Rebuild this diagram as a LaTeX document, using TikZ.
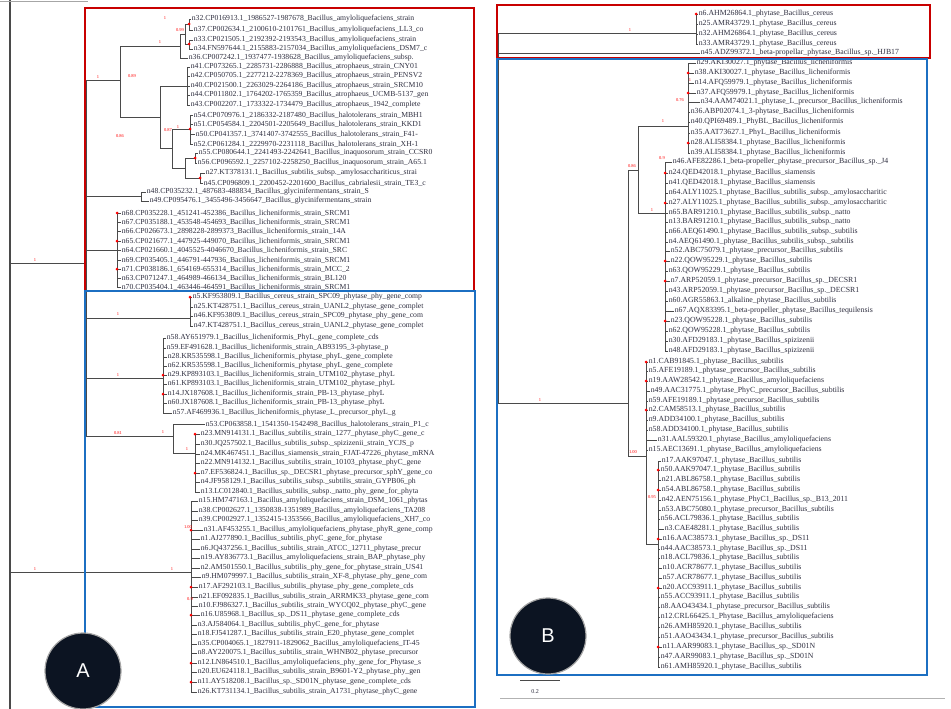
\documentclass[tikz,border=0pt]{standalone}
\usepackage{fontspec}
\setmainfont{Liberation Serif}
\newfontfamily\circfont{Liberation Sans}
\definecolor{labc}{HTML}{2F2F40}
\definecolor{brc}{HTML}{4A4A4A}
\definecolor{redbox}{HTML}{C80000}
\definecolor{bluebox}{HTML}{1C6FC2}
\definecolor{circf}{HTML}{0C1422}
\newcommand\Lf[4]{\node[leaf] (#1) at (#2,#3) {#4};}
\newcommand\LfB[4]{\node[leafb] (#1) at (#2,#3) {#4};}
\newcommand\Ci[3]{\coordinate (#1) at (#2,#3);}
\newcommand\Br[2]{\foreach \cc in {#2} {\draw[br] (#1) |- (\cc);}}
\newcommand\Sv[4]{\node[sv] (#1) at (#2,#3) {#4};}
\newcommand\Dt[3]{\fill[red] (#2,#3) circle (1.5);}
\begin{document}
\begin{tikzpicture}[x=1pt,y=-1pt,
  leaf/.style={anchor=west,inner sep=0.6pt,font=\fontsize{7.7}{8}\selectfont,text=labc},
  leafb/.style={anchor=west,inner sep=0.6pt,font=\fontsize{7.8}{8}\selectfont,text=labc},
  br/.style={draw=brc,line width=0.8pt},
  sv/.style={text=red,font=\fontsize{4.5}{5}\selectfont,inner sep=0pt},
  boxr/.style={draw=redbox,line width=2.6pt},
  boxb/.style={draw=bluebox,line width=2.6pt},
  circ/.style={circle,fill=circf,draw=gray!70,line width=1.2pt,minimum size=76pt,text=white,font=\circfont\fontsize{20}{22}\selectfont}]
\useasboundingbox (0,0) rectangle (951,709);
\fill[white] (0,0) rectangle (951,709);

% ---------------- Panel A : leaves ----------------
\Lf{a32}{191}{19}{n32.CP016913.1\_1986527-1987678\_Bacillus\_amyloliquefaciens\_strain}
\Lf{a37}{193}{30}{n37.CP002634.1\_2100610-2101761\_Bacillus\_amyloliquefaciens\_LL3\_co}
\Lf{a33}{193}{40}{n33.CP021505.1\_2192392-2193543\_Bacillus\_amyloliquefaciens\_strain}
\Lf{a34}{193}{49}{n34.FN597644.1\_2155883-2157034\_Bacillus\_amyloliquefaciens\_DSM7\_c}
\Lf{a36}{188}{58}{n36.CP007242.1\_1937477-1938628\_Bacillus\_amyloliquefaciens\_subsp.}
\Lf{a41}{190}{67}{n41.CP073265.1\_2285731-2286888\_Bacillus\_atrophaeus\_strain\_CNY01}
\Lf{a42}{190}{76}{n42.CP050705.1\_2277212-2278369\_Bacillus\_atrophaeus\_strain\_PENSV2}
\Lf{a40}{190}{86}{n40.CP021500.1\_2263029-2264186\_Bacillus\_atrophaeus\_strain\_SRCM10}
\Lf{a44}{190}{95}{n44.CP011802.1\_1764202-1765359\_Bacillus\_atrophaeus\_UCMB-5137\_gen}
\Lf{a43}{190}{105}{n43.CP002207.1\_1733322-1734479\_Bacillus\_atrophaeus\_1942\_complete}
\Lf{a54}{193}{115}{n54.CP070976.1\_2186332-2187480\_Bacillus\_halotolerans\_strain\_MBH1}
\Lf{a51}{193}{124}{n51.CP054584.1\_2204501-2205649\_Bacillus\_halotolerans\_strain\_KKD1}
\Lf{a50}{195}{134}{n50.CP041357.1\_3741407-3742555\_Bacillus\_halotolerans\_strain\_F41-}
\Lf{a52}{193}{144}{n52.CP061284.1\_2229970-2231118\_Bacillus\_halotolerans\_strain\_XH-1}
\Lf{a55}{198}{153}{n55.CP080644.1\_2241493-2242641\_Bacillus\_inaquosorum\_strain\_CCSR0}
\Lf{a56}{197}{163}{n56.CP096592.1\_2257102-2258250\_Bacillus\_inaquosorum\_strain\_A65.1}
\Lf{a27}{205}{173}{n27.KT378131.1\_Bacillus\_subtilis\_subsp.\_amylosacchariticus\_strai}
\Lf{a45}{203}{183}{n45.CP096809.1\_2200452-2201600\_Bacillus\_cabrialesii\_strain\_TE3\_c}
\Lf{a48}{146}{192}{n48.CP035232.1\_487683-488834\_Bacillus\_glycinifermentans\_strain\_S}
\Lf{a49}{149}{201}{n49.CP095476.1\_3455496-3456647\_Bacillus\_glycinifermentans\_strain}
\Lf{a68}{121}{213}{n68.CP035228.1\_451241-452386\_Bacillus\_licheniformis\_strain\_SRCM1}
\Lf{a67}{121}{222}{n67.CP035188.1\_453548-454693\_Bacillus\_licheniformis\_strain\_SRCM1}
\Lf{a66}{121}{231}{n66.CP026673.1\_2898228-2899373\_Bacillus\_licheniformis\_strain\_14A}
\Lf{a65}{121}{241}{n65.CP021677.1\_447925-449070\_Bacillus\_licheniformis\_strain\_SRCM1}
\Lf{a64}{121}{250}{n64.CP021660.1\_4045525-4046670\_Bacillus\_licheniformis\_strain\_SRC}
\Lf{a69}{121}{260}{n69.CP035405.1\_446791-447936\_Bacillus\_licheniformis\_strain\_SRCM1}
\Lf{a71}{121}{269}{n71.CP038186.1\_654169-655314\_Bacillus\_licheniformis\_strain\_MCC\_2}
\Lf{a63}{121}{278}{n63.CP071247.1\_464989-466134\_Bacillus\_licheniformis\_strain\_BL120}
\Lf{a70}{121}{287}{n70.CP035404.1\_463446-464591\_Bacillus\_licheniformis\_strain\_SRCM1}

\Lf{c5}{192}{297}{n5.KF953809.1\_Bacillus\_cereus\_strain\_SPC09\_phytase\_phy\_gene\_comp}
\Lf{c25}{193}{307}{n25.KT428751.1\_Bacillus\_cereus\_strain\_UANL2\_phytase\_gene\_complet}
\Lf{c46}{193}{316}{n46.KF953809.1\_Bacillus\_cereus\_strain\_SPC09\_phytase\_phy\_gene\_com}
\Lf{c47}{193}{326}{n47.KT428751.1\_Bacillus\_cereus\_strain\_UANL2\_phytase\_gene\_complet}
\Lf{c58}{166}{338}{n58.AY651979.1\_Bacillus\_licheniformis\_PhyL\_gene\_complete\_cds}
\Lf{c59}{166}{348}{n59.EF491628.1\_Bacillus\_licheniformis\_strain\_AB93195\_3-phytase\_p}
\Lf{c28}{167}{357}{n28.KR535598.1\_Bacillus\_licheniformis\_phytase\_phyL\_gene\_complete}
\Lf{c62}{167}{366}{n62.KR535598.1\_Bacillus\_licheniformis\_phytase\_phyL\_gene\_complete}
\Lf{c29}{167}{375}{n29.KP893103.1\_Bacillus\_licheniformis\_strain\_UTM102\_phytase\_phyL}
\Lf{c61}{167}{384}{n61.KP893103.1\_Bacillus\_licheniformis\_strain\_UTM102\_phytase\_phyL}
\Lf{c14}{167}{394}{n14.JX187608.1\_Bacillus\_licheniformis\_strain\_PB-13\_phytase\_phyL}
\Lf{c60}{167}{403}{n60.JX187608.1\_Bacillus\_licheniformis\_strain\_PB-13\_phytase\_phyL}
\Lf{c57}{172}{413}{n57.AF469936.1\_Bacillus\_licheniformis\_phytase\_L\_precursor\_phyL\_g}
\Lf{c53}{205}{424}{n53.CP063858.1\_1541350-1542498\_Bacillus\_halotolerans\_strain\_P1\_c}
\Lf{c23}{200}{434}{n23.MN914131.1\_Bacillus\_subtilis\_strain\_1277\_phytase\_phyC\_gene\_c}
\Lf{c30}{200}{444}{n30.JQ257502.1\_Bacillus\_subtilis\_subsp.\_spizizenii\_strain\_YCJS\_p}
\Lf{c24}{200}{454}{n24.MK467451.1\_Bacillus\_siamensis\_strain\_FJAT-47226\_phytase\_mRNA}
\Lf{c22}{200}{463}{n22.MN914132.1\_Bacillus\_subtilis\_strain\_10103\_phytase\_phyC\_gene}
\Lf{c7}{200}{473}{n7.EF536824.1\_Bacillus\_sp.\_DECSR1\_phytase\_precursor\_sphY\_gene\_co}
\Lf{c4}{200}{482}{n4.JF958129.1\_Bacillus\_subtilis\_subsp.\_subtilis\_strain\_GYPB06\_ph}
\Lf{c13}{200}{492}{n13.LC012840.1\_Bacillus\_subtilis\_subsp.\_natto\_phy\_gene\_for\_phyta}
\Lf{c15}{198}{501}{n15.HM747163.1\_Bacillus\_amyloliquefaciens\_strain\_DSM\_1061\_phytas}
\Lf{c38}{198}{511}{n38.CP002627.1\_1350838-1351989\_Bacillus\_amyloliquefaciens\_TA208}
\Lf{c39}{198}{520}{n39.CP002927.1\_1352415-1353566\_Bacillus\_amyloliquefaciens\_XH7\_co}
\Lf{c31}{203}{530}{n31.AF453255.1\_Bacillus\_amyloliquefaciens\_phytase\_phyR\_gene\_comp}
\Lf{c1}{200}{539}{n1.AJ277890.1\_Bacillus\_subtilis\_phyC\_gene\_for\_phytase}
\Lf{c6}{200}{549}{n6.JQ437256.1\_Bacillus\_subtilis\_strain\_ATCC\_12711\_phytase\_precur}
\Lf{c19}{200}{558}{n19.AY836773.1\_Bacillus\_amyloliquefaciens\_strain\_BAP\_phytase\_phy}
\Lf{c2}{200}{568}{n2.AM501550.1\_Bacillus\_subtilis\_phy\_gene\_for\_phytase\_strain\_US41}
\Lf{c9}{201}{577}{n9.HM079997.1\_Bacillus\_subtilis\_strain\_XF-8\_phytase\_phy\_gene\_com}
\Lf{c17}{198}{587}{n17.AF292103.1\_Bacillus\_subtilis\_phytase\_phy\_gene\_complete\_cds}
\Lf{c21}{198}{597}{n21.EF092835.1\_Bacillus\_subtilis\_strain\_ARRMK33\_phytase\_gene\_com}
\Lf{c10}{198}{606}{n10.FJ986327.1\_Bacillus\_subtilis\_strain\_WYCQ02\_phytase\_phyC\_gene}
\Lf{c16}{200}{615}{n16.U85968.1\_Bacillus\_sp.\_DS11\_phytase\_gene\_complete\_cds}
\Lf{c3}{197}{625}{n3.AJ584064.1\_Bacillus\_subtilis\_phyC\_gene\_for\_phytase}
\Lf{c18}{197}{634}{n18.FJ541287.1\_Bacillus\_subtilis\_strain\_E20\_phytase\_gene\_complet}
\Lf{c35}{197}{644}{n35.CP004065.1\_1827911-1829062\_Bacillus\_amyloliquefaciens\_IT-45}
\Lf{c8}{197}{653}{n8.AY220075.1\_Bacillus\_subtilis\_strain\_WHNB02\_phytase\_precursor}
\Lf{c12}{197}{663}{n12.LN864510.1\_Bacillus\_amyloliquefaciens\_phy\_gene\_for\_Phytase\_s}
\Lf{c20}{197}{672}{n20.EU624118.1\_Bacillus\_subtilis\_strain\_B9601-Y2\_phytase\_phy\_gen}
\Lf{c11}{197}{682}{n11.AY518208.1\_Bacillus\_sp.\_SD01N\_phytase\_gene\_complete\_cds}
\Lf{c26}{197}{692}{n26.KT731134.1\_Bacillus\_subtilis\_strain\_A1731\_phytase\_phyC\_gene}

% ---------------- Panel A : internal nodes ----------------
\Ci{iA1}{189}{24}\Ci{iA2}{189}{44}\Ci{iA3}{185}{34}\Ci{iA4}{180}{46}
\Ci{iA5}{187}{86}\Ci{iA6}{190}{129}\Ci{iA7}{195}{158}\Ci{iA8}{200}{178}
\Ci{iA9}{185}{168}\Ci{iA10}{172}{148}\Ci{iA11}{160}{117}\Ci{iA12}{120}{80}
\Ci{iA13}{141}{196}\Ci{iA15}{117}{250}
\Br{iA1}{a32,a37}\Br{iA2}{a33,a34}\Br{iA3}{iA1,iA2}\Br{iA4}{iA3,a36}
\Br{iA5}{a41,a42,a40,a44,a43}\Br{iA6}{a54,a51,a50,a52}\Br{iA7}{a55,a56}
\Br{iA8}{a27,a45}\Br{iA9}{iA7,iA8}\Br{iA10}{iA6,iA9}\Br{iA11}{iA5,iA10}
\Br{iA12}{iA4,iA11}\Br{iA13}{a48,a49}
\Br{iA15}{a68,a67,a66,a65,a64,a69,a71,a63,a70}

\Ci{iB1}{190}{318}\Ci{iB2}{163}{378}\Ci{iB3}{195}{453}\Ci{iB4}{173}{436}
\Ci{iB7}{191}{572}
\Br{iB1}{c5,c25,c46,c47}
\Br{iB2}{c58,c59,c28,c62,c29,c61,c14,c60,c57}
\Br{iB3}{c23,c30,c24,c22,c7,c4,c13}
\Br{iB7}{c15,c38,c39,c31,c1,c6,c19,c2,c9,c17,c21,c10,c16,c3,c18,c35,c8,c12,c20,c11,c26}
\Br{iB4}{c53,iB3}
% upper multifurcation hidden along the box edge
\Ci{uA}{86}{263}
\Br{uA}{iA12,iA13,iA15,iB1,iB2,iB4}
\Ci{rootA}{10}{420}
\draw[brc,line width=2.2pt] (10,0) -- (10,709);
\draw[gray!70,line width=1pt] (0,2) -- (88,2);
\Br{rootA}{uA,iB7}

% support values panel A
\Sv{s1}{165}{18}{1}\Sv{s2}{180}{30}{0.99}\Sv{s3}{160}{42}{1}\Sv{s4}{98}{77}{1}
\Sv{s5}{132}{76}{0.89}\Sv{s6}{168}{130}{0.87}\Sv{s7}{178}{127}{1}\Sv{s8}{120}{136}{0.86}
\Sv{s9}{118}{314}{1}\Sv{s10}{118}{433}{0.81}\Sv{s11}{163}{432}{1}\Sv{s12}{187}{449}{1}
\Sv{s13}{35}{260}{1}\Sv{s14}{118}{375}{1}\Sv{s15}{188}{527}{1.00}\Sv{s16}{190}{599}{0.9}
\Sv{s17}{35}{569}{1}\Sv{s18}{172}{569}{1}
\Dt{d1}{189}{24}\Dt{d2}{189}{44}\Dt{d3}{190}{129}\Dt{d4}{195}{158}\Dt{d5}{200}{178}
\Dt{d6}{117}{213}\Dt{d7}{117}{241}\Dt{d8}{117}{269}\Dt{d9}{163}{375}\Dt{d10}{163}{394}
\Dt{d11}{195}{434}\Dt{d12}{195}{473}\Dt{d13}{191}{530}\Dt{d14}{191}{587}\Dt{d15}{191}{615}
\Dt{d16}{191}{663}\Dt{d17}{191}{682}\Dt{d18}{190}{297}

% ---------------- Panel B : leaves ----------------
\LfB{b6}{698}{14}{n6.AHM26864.1\_phytase\_Bacillus\_cereus}
\LfB{b25}{698}{24}{n25.AMR43729.1\_phytase\_Bacillus\_cereus}
\LfB{b32}{698}{34}{n32.AHM26864.1\_phytase\_Bacillus\_cereus}
\LfB{b33}{698}{44}{n33.AMR43729.1\_phytase\_Bacillus\_cereus}
\LfB{b45}{700}{53}{n45.ADZ99372.1\_beta-propellar\_phytase\_Bacillus\_sp.\_HJB17}
\LfB{b29}{696}{63}{n29.AKI30027.1\_phytase\_Bacillus\_licheniformis}
\LfB{b38}{694}{73}{n38.AKI30027.1\_phytase\_Bacillus\_licheniformis}
\LfB{b14}{694}{83}{n14.AFQ59979.1\_phytase\_Bacillus\_licheniformis}
\LfB{b37}{696}{93}{n37.AFQ59979.1\_phytase\_Bacillus\_licheniformis}
\LfB{b34}{700}{102}{n34.AAM74021.1\_phytase\_L\_precursor\_Bacillus\_licheniformis}
\LfB{b36}{690}{112}{n36.ABP02074.1\_3-phytase\_Bacillus\_licheniformis}
\LfB{b40}{690}{122}{n40.QPI69489.1\_PhyBL\_Bacillus\_licheniformis}
\LfB{b35}{690}{133}{n35.AAT73627.1\_PhyL\_Bacillus\_licheniformis}
\LfB{b28}{690}{143}{n28.ALI58384.1\_phytase\_Bacillus\_licheniformis}
\LfB{b39}{690}{153}{n39.ALI58384.1\_phytase\_Bacillus\_licheniformis}
\LfB{b46}{672}{162}{n46.AFE82286.1\_beta-propeller\_phytase\_precursor\_Bacillus\_sp.\_J4}
\LfB{b24}{668}{173}{n24.QED42018.1\_phytase\_Bacillus\_siamensis}
\LfB{b41}{668}{183}{n41.QED42018.1\_phytase\_Bacillus\_siamensis}
\LfB{b64}{668}{193}{n64.ALY11025.1\_phytase\_Bacillus\_subtilis\_subsp.\_amylosaccharitic}
\LfB{b27}{668}{203}{n27.ALY11025.1\_phytase\_Bacillus\_subtilis\_subsp.\_amylosaccharitic}
\LfB{b65}{668}{213}{n65.BAR91210.1\_phytase\_Bacillus\_subtilis\_subsp.\_natto}
\LfB{b13}{668}{222}{n13.BAR91210.1\_phytase\_Bacillus\_subtilis\_subsp.\_natto}
\LfB{b66}{668}{232}{n66.AEQ61490.1\_phytase\_Bacillus\_subtilis\_subsp.\_subtilis}
\LfB{b4}{668}{242}{n4.AEQ61490.1\_phytase\_Bacillus\_subtilis\_subsp.\_subtilis}
\LfB{b52}{670}{251}{n52.ABC75079.1\_phytase\_precursor\_Bacillus\_subtilis}
\LfB{b22}{670}{261}{n22.QOW95229.1\_phytase\_Bacillus\_subtilis}
\LfB{b63}{668}{271}{n63.QOW95229.1\_phytase\_Bacillus\_subtilis}
\LfB{b7}{670}{281}{n7.ARP52059.1\_phytase\_precursor\_Bacillus\_sp.\_DECSR1}
\LfB{b43}{668}{291}{n43.ARP52059.1\_phytase\_precursor\_Bacillus\_sp.\_DECSR1}
\LfB{b60}{668}{301}{n60.AGR55863.1\_alkaline\_phytase\_Bacillus\_subtilis}
\LfB{b67}{674}{311}{n67.AQX83395.1\_beta-propeller\_phytase\_Bacillus\_tequilensis}
\LfB{b23}{670}{321}{n23.QOW95228.1\_phytase\_Bacillus\_subtilis}
\LfB{b62}{668}{331}{n62.QOW95228.1\_phytase\_Bacillus\_subtilis}
\LfB{b30}{668}{341}{n30.AFD29183.1\_phytase\_Bacillus\_spizizenii}
\LfB{b48}{668}{351}{n48.AFD29183.1\_phytase\_Bacillus\_spizizenii}
\LfB{b1}{648}{362}{n1.CAB91845.1\_phytase\_Bacillus\_subtilis}
\LfB{b5}{648}{371}{n5.AFE19189.1\_phytase\_precursor\_Bacillus\_subtilis}
\LfB{b19}{648}{381}{n19.AAW28542.1\_phytase\_Bacillus\_amyloliquefaciens}
\LfB{b49}{650}{391}{n49.AAC31775.1\_phytase\_PhyC\_precursor\_Bacillus\_subtilis}
\LfB{b59}{648}{401}{n59.AFE19189.1\_phytase\_precursor\_Bacillus\_subtilis}
\LfB{b2}{648}{410}{n2.CAM58513.1\_phytase\_Bacillus\_subtilis}
\LfB{b9}{648}{420}{n9.ADD34100.1\_phytase\_Bacillus\_subtilis}
\LfB{b58}{648}{430}{n58.ADD34100.1\_phytase\_Bacillus\_subtilis}
\LfB{b31}{657}{440}{n31.AAL59320.1\_phytase\_Bacillus\_amyloliquefaciens}
\LfB{b15}{648}{450}{n15.AEC13691.1\_phytase\_Bacillus\_amyloliquefaciens}
\LfB{b17}{661}{461}{n17.AAK97047.1\_phytase\_Bacillus\_subtilis}
\LfB{b50}{660}{470}{n50.AAK97047.1\_phytase\_Bacillus\_subtilis}
\LfB{b21}{661}{480}{n21.ABL86758.1\_phytase\_Bacillus\_subtilis}
\LfB{b54}{661}{490}{n54.ABL86758.1\_phytase\_Bacillus\_subtilis}
\LfB{b42}{661}{500}{n42.AEN75156.1\_phytase\_PhyC1\_Bacillus\_sp.\_B13\_2011}
\LfB{b53}{661}{510}{n53.ABC75080.1\_phytase\_precursor\_Bacillus\_subtilis}
\LfB{b56}{660}{519}{n56.ACL79836.1\_phytase\_Bacillus\_subtilis}
\LfB{b3}{664}{529}{n3.CAE48281.1\_phytase\_Bacillus\_subtilis}
\LfB{b16}{662}{539}{n16.AAC38573.1\_phytase\_Bacillus\_sp.\_DS11}
\LfB{b44}{660}{549}{n44.AAC38573.1\_phytase\_Bacillus\_sp.\_DS11}
\LfB{b18}{660}{558}{n18.ACL79836.1\_phytase\_Bacillus\_subtilis}
\LfB{b10}{662}{568}{n10.ACR78677.1\_phytase\_Bacillus\_subtilis}
\LfB{b57}{662}{578}{n57.ACR78677.1\_phytase\_Bacillus\_subtilis}
\LfB{b20}{662}{588}{n20.ACC93911.1\_phytase\_Bacillus\_subtilis}
\LfB{b55}{660}{597}{n55.ACC93911.1\_phytase\_Bacillus\_subtilis}
\LfB{b8}{660}{607}{n8.AAO43434.1\_phytase\_precursor\_Bacillus\_subtilis}
\LfB{b12}{660}{617}{n12.CRL66425.1\_Phytase\_Bacillus\_amyloliquefaciens}
\LfB{b26}{660}{627}{n26.AMH85920.1\_phytase\_Bacillus\_subtilis}
\LfB{b51}{660}{637}{n51.AAO43434.1\_phytase\_precursor\_Bacillus\_subtilis}
\LfB{b11}{662}{647}{n11.AAR99083.1\_phytase\_Bacillus\_sp.\_SD01N}
\LfB{b47}{660}{657}{n47.AAR99083.1\_phytase\_Bacillus\_sp.\_SD01N}
\LfB{b61}{660}{667}{n61.AMH85920.1\_phytase\_Bacillus\_subtilis}

% ---------------- Panel B : internal nodes ----------------
\Ci{eB1}{696}{33}\Ci{eB2}{688}{126}\Ci{eB3}{665}{213}\Ci{eB4}{646}{456}
\Ci{eB5}{658}{544}\Ci{eB7}{638}{170}\Ci{eB8}{628}{403}\Ci{rootB}{498}{216}
\Br{eB1}{b6,b25,b32,b33}
\Br{eB2}{b29,b38,b14,b37,b34,b36,b40,b35,b28,b39}
\Br{eB3}{b46,b24,b41,b64,b27,b65,b13,b66,b4,b52,b22,b63,b7,b43,b60,b67,b23,b62,b30,b48}
\Br{eB5}{b17,b50,b21,b54,b42,b53,b56,b3,b16,b44,b18,b10,b57,b20,b55,b8,b12,b26,b51,b11,b47,b61}
\Br{eB4}{b1,b5,b19,b49,b59,b2,b9,b58,b31,b15,eB5}
\Br{eB7}{eB2,eB3}\Br{eB8}{eB7,eB4}
\Br{rootB}{eB1,b45,eB8}

\Sv{t1}{630}{30}{1}\Sv{t2}{690}{80}{1}\Sv{t3}{680}{100}{0.76}\Sv{t4}{663}{121}{1}
\Sv{t5}{632}{166}{0.86}\Sv{t6}{652}{210}{1}\Sv{t7}{540}{400}{1}\Sv{t8}{633}{452}{1.00}
\Sv{t9}{652}{497}{0.95}\Sv{t10}{662}{158}{0.9}
\Dt{e1}{696}{14}\Dt{e2}{688}{73}\Dt{e3}{688}{93}\Dt{e4}{688}{143}\Dt{e5}{665}{173}
\Dt{e6}{665}{203}\Dt{e7}{665}{261}\Dt{e8}{665}{281}\Dt{e9}{665}{321}\Dt{e10}{646}{362}
\Dt{e11}{646}{381}\Dt{e12}{646}{410}\Dt{e13}{658}{470}\Dt{e14}{658}{490}\Dt{e15}{658}{539}
\Dt{e16}{658}{588}\Dt{e17}{658}{647}

% scale bar
\coordinate (sbl) at (520,680); \coordinate (sbr) at (560,680);
\draw[brc,line width=0.6pt] (sbl) -- (sbr);
\node[font=\fontsize{6}{6}\selectfont,text=labc] (sbt) at (535,692) {0.2};
\draw[gray!60,line width=0.8pt] (500,698) -- (945,698);

% ---------------- boxes ----------------
\draw[boxr] (85,8) rectangle (474,291);
\draw[boxb] (85,291) rectangle (475,707);
\draw[boxr] (497,5) rectangle (930,58);
\draw[boxb] (497,59) rectangle (927,675);

% circles
\node[circ] (cA) at (83,671) {A};
\node[circ] (cB) at (548,636) {B};
\end{tikzpicture}
\end{document}
